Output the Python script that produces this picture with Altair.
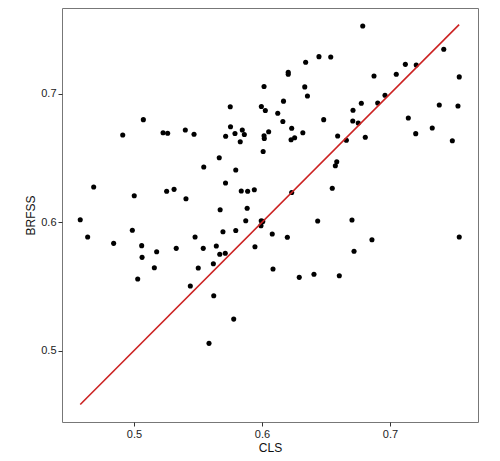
import altair as alt
import pandas as pd

cls = [0.6016, 0.5752, 0.5995, 0.6026, 0.6123, 0.5073, 0.4912, 0.5227, 0.5263, 0.5401,
       0.5469, 0.5754, 0.5716, 0.5789, 0.5846, 0.5862, 0.5830, 0.6016, 0.6018, 0.6052,
       0.6009, 0.5666, 0.5545, 0.5795, 0.5715, 0.4685, 0.5002, 0.5255, 0.5313, 0.5406,
       0.5838, 0.5888, 0.5940, 0.5673, 0.5884, 0.4580, 0.5873, 0.5994, 0.6006, 0.5992,
       0.4638, 0.4987, 0.4841, 0.5060, 0.5063, 0.5177, 0.5159, 0.5029, 0.5330, 0.5477,
       0.5541, 0.5643, 0.5695, 0.5795, 0.5670, 0.5713, 0.5502, 0.5620, 0.5440, 0.5623,
       0.5779, 0.5586, 0.5945, 0.6080, 0.6086, 0.6787, 0.7420, 0.6445, 0.6537, 0.6341,
       0.7120, 0.7205, 0.6205, 0.6205, 0.6875, 0.7049, 0.7541, 0.6334, 0.6355, 0.6168,
       0.6163, 0.6482, 0.6711, 0.6776, 0.6904, 0.6961, 0.6709, 0.6752, 0.7143, 0.7385,
       0.7531, 0.6232, 0.6319, 0.6227, 0.6255, 0.6591, 0.6659, 0.6807, 0.7201, 0.7330,
       0.7487, 0.6584, 0.6573, 0.6549, 0.6232, 0.6435, 0.6703, 0.6198, 0.6859, 0.6719,
       0.7541, 0.6291, 0.6406, 0.6604]

brfss = [0.7058, 0.6901, 0.6902, 0.6871, 0.6850, 0.6800, 0.6680, 0.6698, 0.6694, 0.6719,
         0.6686, 0.6745, 0.6671, 0.6692, 0.6719, 0.6684, 0.6628, 0.6674, 0.6653, 0.6706,
         0.6552, 0.6503, 0.6431, 0.6408, 0.6306, 0.6275, 0.6207, 0.6242, 0.6257, 0.6184,
         0.6244, 0.6242, 0.6254, 0.6098, 0.6110, 0.6020, 0.6012, 0.6012, 0.6007, 0.5974,
         0.5885, 0.5938, 0.5836, 0.5818, 0.5727, 0.5771, 0.5646, 0.5558, 0.5797, 0.5885,
         0.5797, 0.5815, 0.5927, 0.5936, 0.5751, 0.5759, 0.5644, 0.5677, 0.5504, 0.5428,
         0.5246, 0.5057, 0.5810, 0.5909, 0.5636, 0.7530, 0.7348, 0.7291, 0.7288, 0.7247,
         0.7231, 0.7226, 0.7169, 0.7154, 0.7140, 0.7154, 0.7133, 0.7055, 0.6984, 0.6944,
         0.6786, 0.6800, 0.6873, 0.6928, 0.6930, 0.6990, 0.6790, 0.6774, 0.6813, 0.6914,
         0.6906, 0.6733, 0.6698, 0.6643, 0.6659, 0.6673, 0.6639, 0.6663, 0.6691, 0.6735,
         0.6636, 0.6472, 0.6441, 0.6265, 0.6232, 0.6010, 0.6018, 0.5884, 0.5864, 0.5774,
         0.5885, 0.5571, 0.5595, 0.5584]

line_x = [0.458, 0.754]
line_y = [0.458, 0.754]

x_ticks = [0.5, 0.6, 0.7]
y_ticks = [0.5, 0.6, 0.7]

pts = pd.DataFrame({"CLS": cls, "BRFSS": brfss})
ln = pd.DataFrame({"CLS": line_x, "BRFSS": line_y})

xscale = alt.Scale(domain=[0.44375, 0.76875], nice=False, zero=False)
yscale = alt.Scale(domain=[0.4444, 0.767], nice=False, zero=False)

axis_style = dict(format=".1f", grid=False, domain=False,
                  tickColor="#333333", tickSize=4, labelFontSize=11, labelColor="#222222",
                  labelFont="Liberation Sans", labelPadding=2, titleFont="Liberation Sans",
                  titleFontSize=12, titleFontWeight="normal", titleColor="#111111", titlePadding=3)

xaxis = alt.Axis(values=x_ticks, **axis_style)
yaxis = alt.Axis(values=y_ticks, **axis_style)

points = alt.Chart(pts).mark_circle(size=26, color="black", opacity=1).encode(
    x=alt.X("CLS:Q", scale=xscale, axis=xaxis, title="CLS"),
    y=alt.Y("BRFSS:Q", scale=yscale, axis=yaxis, title="BRFSS"),
)

line = alt.Chart(ln).mark_line(color="#cc2222", strokeWidth=1.6).encode(
    x=alt.X("CLS:Q", scale=xscale),
    y=alt.Y("BRFSS:Q", scale=yscale),
)

chart = alt.layer(points, line).properties(
    width=416, height=414,
    autosize=alt.AutoSizeParams(type="none"),
    padding={"left": 54, "top": 0, "right": 10, "bottom": 40},
    background="white",
).configure_view(stroke="#777777", strokeWidth=1)

chart.save("out.html", embed_options={"renderer": "svg", "actions": False})
